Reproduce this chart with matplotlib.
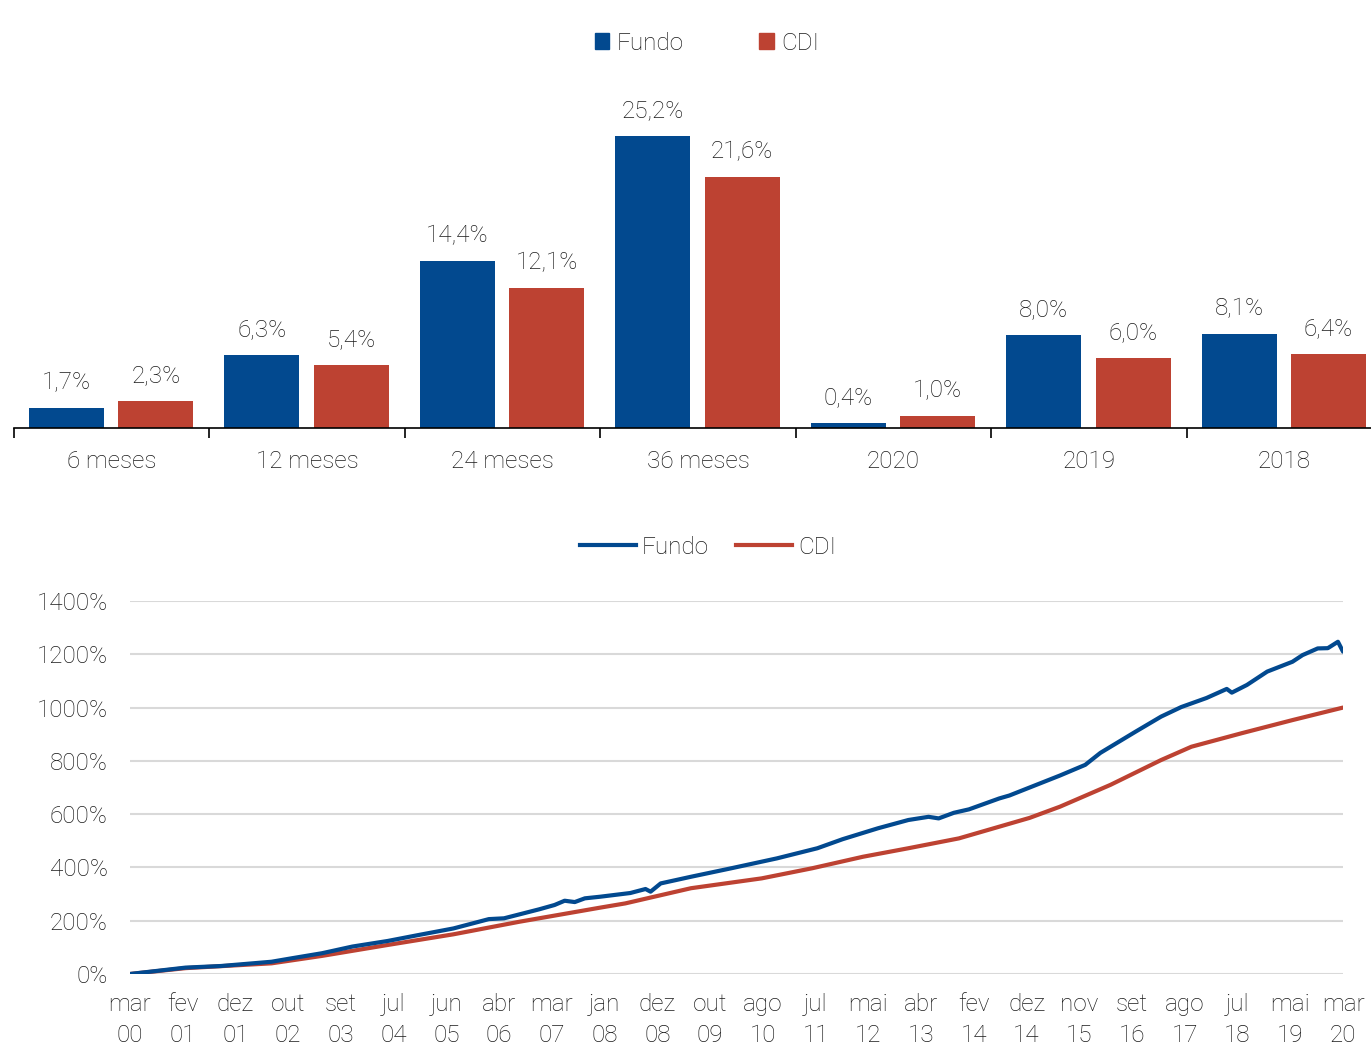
import numpy as np
import matplotlib
matplotlib.use("Agg")
import matplotlib.pyplot as plt
from matplotlib.patches import Patch
from matplotlib.lines import Line2D

plt.rcParams['font.family'] = ['Roboto', 'DejaVu Sans']
plt.rcParams['font.weight'] = 'light'

# ---------------- data: bar chart ----------------
categories = ["6 meses", "12 meses", "24 meses", "36 meses", "2020", "2019", "2018"]
fundo_bars = [1.7, 6.3, 14.4, 25.2, 0.4, 8.0, 8.1]
cdi_bars = [2.3, 5.4, 12.1, 21.6, 1.0, 6.0, 6.4]

# ---------------- data: line chart (month offset from mar/2000, cumulative %) ----------------
fundo_months = [0, 11, 18, 28, 32, 38, 44, 51, 57, 64, 71, 74, 81, 84, 86, 88, 90, 93, 99,
                102, 103, 105, 111, 119, 128, 136, 141, 148, 154, 158, 160, 163, 166, 172,
                174, 184, 189, 192, 199, 204, 208, 213, 217, 218, 221, 225, 230, 232, 235,
                237, 239, 240]
fundo_values = [0, 24, 30, 46, 59, 78, 103, 124, 146, 171, 206, 209, 243, 259, 275, 270, 284,
                290, 304, 319, 309, 340, 365, 397, 434, 472, 506, 547, 578, 590, 584, 605,
                618, 659, 670, 745, 785, 830, 910, 966, 1002, 1036, 1070, 1056, 1085, 1135,
                1172, 1197, 1222, 1223, 1247, 1210]
cdi_months = [0, 11, 28, 38, 51, 64, 77, 93, 98, 111, 125, 135, 145, 154, 164, 172, 178, 184,
              194, 204, 210, 220, 230, 240]
cdi_values = [0, 22, 40, 68, 109, 149, 196, 249, 265, 322, 359, 397, 440, 472, 509, 553, 586,
              628, 710, 803, 853, 904, 953, 1000]
x_tick_labels = ["mar\n00", "fev\n01", "dez\n01", "out\n02", "set\n03", "jul\n04", "jun\n05",
                 "abr\n06", "mar\n07", "jan\n08", "dez\n08", "out\n09", "ago\n10", "jul\n11",
                 "mai\n12", "abr\n13", "fev\n14", "dez\n14", "nov\n15", "set\n16", "ago\n17",
                 "jul\n18", "mai\n19", "mar\n20"]
y_ticks = [0, 200, 400, 600, 800, 1000, 1200, 1400]

BLUE = '#02498F'
RED = '#BD4232'
TXT = '#1a1a1a'
FS = 17.5

W, H = 1371, 1050
fig = plt.figure(figsize=(W / 100, H / 100), dpi=100)

# ---------------- top bar chart ----------------
ax1 = fig.add_axes([14 / W, (H - 428) / H, (1382 - 14) / W, 348 / H])
x = np.arange(len(categories))
bw = 0.384
b1 = ax1.bar(x - 0.2315, fundo_bars, bw, color=BLUE, label="Fundo")
b2 = ax1.bar(x + 0.226, cdi_bars, bw, color=RED, label="CDI")
fmt = lambda v: f"{v:.1f}%".replace('.', ',')
ax1.bar_label(b1, labels=[fmt(v) for v in fundo_bars], padding=10, fontsize=FS, color=TXT)
ax1.bar_label(b2, labels=[fmt(v) for v in cdi_bars], padding=10, fontsize=FS, color=TXT)
ax1.set_xlim(-0.5, len(categories) - 0.5)
ax1.set_ylim(0, 30)
for s in ['top', 'right', 'left']:
    ax1.spines[s].set_visible(False)
ax1.spines['bottom'].set_color('black')
ax1.spines['bottom'].set_linewidth(1.2)
ax1.set_yticks([])
ax1.set_xticks(x)
ax1.set_xticklabels(categories, fontsize=FS, color=TXT)
ax1.tick_params(axis='x', which='major', length=0, pad=15.5)
ax1.set_xticks(np.arange(len(categories) + 1) - 0.5, minor=True)
ax1.tick_params(axis='x', which='minor', length=7, width=1.2, direction='out')

fig.legend(handles=[Patch(color=BLUE, label="Fundo"), Patch(color=RED, label="CDI")],
           loc='center', bbox_to_anchor=(707 / W, 1 - 43 / H), ncol=2, frameon=False,
           fontsize=FS, handlelength=0.6, handleheight=0.6, handletextpad=0.3,
           columnspacing=3.1, labelcolor=TXT)

# ---------------- bottom line chart ----------------
ax2 = fig.add_axes([130 / W, (H - 974) / H, 1213 / W, 373 / H])
ax2.plot(cdi_months, cdi_values, color=RED, lw=3.0, solid_capstyle='round')
ax2.plot(fundo_months, fundo_values, color=BLUE, lw=3.0, solid_capstyle='round')
ax2.set_xlim(0, 240)
ax2.set_ylim(0, 1400)
ax2.set_yticks(y_ticks)
ax2.set_yticklabels([f"{v}%" for v in y_ticks], fontsize=FS, color=TXT)
ax2.set_xticks(np.linspace(0, 240, len(x_tick_labels)))
ax2.set_xticklabels(x_tick_labels, fontsize=FS, color=TXT, linespacing=1.4)
ax2.tick_params(axis='both', length=0)
ax2.tick_params(axis='y', pad=16)
ax2.tick_params(axis='x', pad=14)
for s in ax2.spines.values():
    s.set_visible(False)
ax2.grid(axis='y', color='#D9D9D9', lw=1.5)
ax2.set_axisbelow(True)

fig.legend(handles=[Line2D([], [], color=BLUE, lw=3.0, label="Fundo"),
                    Line2D([], [], color=RED, lw=3.0, label="CDI")],
           loc='center', bbox_to_anchor=(708 / W, 1 - 547 / H), ncol=2, frameon=False,
           fontsize=FS, handlelength=2.3, handletextpad=0.25, columnspacing=1.1,
           labelcolor=TXT)

fig.savefig("out.png", dpi=100)
